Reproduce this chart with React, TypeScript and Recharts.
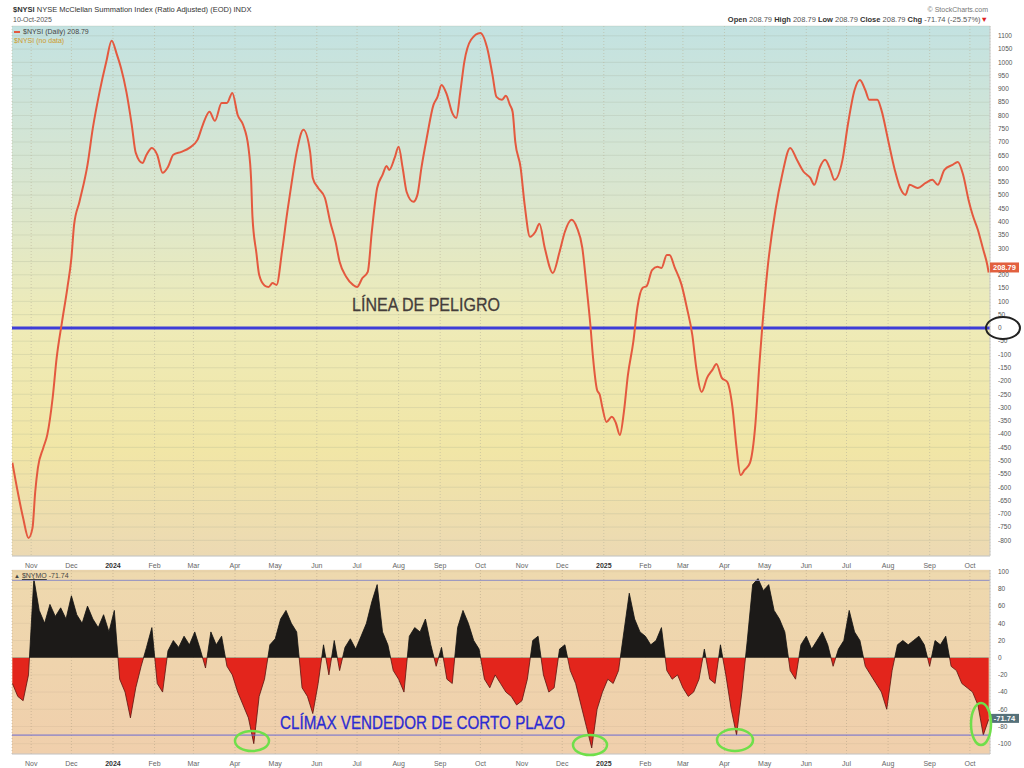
import React from 'react';
import {
  LineChart,
  Line,
  AreaChart,
  Area,
  XAxis,
  YAxis,
  CartesianGrid,
  ReferenceLine,
  ReferenceDot,
} from 'recharts';

const FONT = '"Liberation Sans", Arial, sans-serif';

// x axis is calendar days counted from 1 Jan 2024
const X_DOMAIN: [number, number] = [-75.3, 654];

const monthTicks = [-61, -31, 0, 31, 60, 91, 121, 152, 182, 213, 244, 274, 305, 335, 366, 397, 425, 456, 486, 517, 547, 578, 609, 639];
const monthLabels = ['Nov', 'Dec', '2024', 'Feb', 'Mar', 'Apr', 'May', 'Jun', 'Jul', 'Aug', 'Sep', 'Oct', 'Nov', 'Dec', '2025', 'Feb', 'Mar', 'Apr', 'May', 'Jun', 'Jul', 'Aug', 'Sep', 'Oct'];

// $NYSI summation index
const sumDays = [
  -75, -71, -67, -63, -60, -58, -56, -52, -49, -45, -42, -38, -34, -31, -29, -25, -19, -15, -10, -5,
  -1, 3, 6, 10, 14, 17, 22, 25, 29, 33, 37, 41, 45, 51, 57, 63, 67, 72, 76, 81,
  85, 89, 93, 97, 101, 103, 104, 107, 109, 113, 116, 119, 122, 126, 130, 133, 137, 142, 147, 149,
  153, 158, 162, 166, 169, 174, 179, 182, 186, 190, 193, 197, 201, 204, 206, 210, 213, 216, 219, 224,
  227, 230, 234, 239, 242, 245, 249, 253, 256, 259, 262, 267, 274, 279, 283, 286, 290, 293, 296, 298,
  300, 304, 307, 311, 315, 318, 322, 328, 333, 337, 342, 346, 350, 353, 356, 358, 361, 363, 365, 368,
  372, 375, 378, 381, 384, 388, 391, 395, 398, 402, 406, 409, 413, 415, 419, 424, 428, 432, 435, 439,
  443, 447, 450, 454, 458, 462, 465, 468, 471, 475, 479, 482, 484, 488, 494, 499, 505, 510, 515, 520,
  523, 527, 531, 535, 538, 544, 548, 553, 557, 561, 564, 570, 573, 578, 583, 587, 591, 594, 600, 606,
  611, 615, 620, 626, 630, 634, 638, 641, 645, 649, 652, 653,
];
const sumValues = [
  -508, -618, -716, -791, -753, -618, -527, -452, -403, -264, -113, 23, 151, 264, 388, 475, 614, 753, 889, 1002,
  1081, 1028, 979, 889, 765, 659, 621, 652, 678, 652, 584, 606, 652, 663, 678, 708, 765, 814, 780, 847,
  847, 885, 802, 765, 680, 560, 420, 280, 200, 160, 154, 169, 162, 286, 437, 539, 663, 746, 663, 565,
  527, 490, 399, 324, 249, 192, 162, 154, 188, 211, 362, 527, 576, 610, 595, 640, 682, 603, 512, 475,
  501, 603, 716, 840, 870, 915, 878, 810, 791, 889, 1002, 1085, 1111, 1055, 953, 870, 859, 874, 840, 814,
  701, 603, 463, 343, 362, 392, 301, 207, 286, 362, 407, 377, 301, 162, 11, -113, -234, -252, -301, -354,
  -335, -358, -403, -316, -177, -53, 75, 151, 158, 218, 230, 226, 275, 275, 226, 162, 75, -26, -151, -241,
  -188, -158, -136, -188, -203, -301, -452, -554, -535, -508, -365, -139, -8, 218, 444, 576, 678, 633, 588, 565,
  539, 603, 633, 595, 558, 633, 765, 896, 934, 896, 859, 859, 821, 708, 595, 527, 501, 539, 527, 546,
  558, 539, 595, 614, 625, 576, 482, 426, 369, 294, 237, 208.79,
];
const sumTicks = [
  -800, -750, -700, -650, -600, -550, -500, -450, -400, -350, -300, -250, -200, -150, -100, -50, 0,
  50, 100, 150, 200, 250, 300, 350, 400, 450, 500, 550, 600, 650, 700, 750, 800, 850, 900, 950, 1000, 1050, 1100,
];

// $NYMO oscillator, one reading every 4 days from oscStartDay
const oscStartDay = -75;
const oscStep = 4;
const oscValues = [
  -30, -45, -50, -20, 92, 55, 40, 62, 48, 58,
  45, 72, 50, 40, 60, 45, 35, 50, 30, 55,
  -25, -40, -70, -35, -10, 12, 35, -30, -40, 8,
  20, 12, 25, 15, 30, 10, -12, 30, 15, 25,
  -10, -20, -40, -55, -70, -100, -45, -25, 15, 22,
  45, 55, 40, 30, -35, -45, -65, -30, 15, -20,
  20, -15, 12, 22, 10, 25, 40, 65, 85, 30,
  15, -15, -25, -40, 25, 35, 30, 45, 15, -10,
  12, -25, -30, 35, 55, 40, 20, 10, -25, -35,
  -20, -30, -40, -45, -55, -50, -25, 20, 25, -20,
  -40, -35, 10, 15, -15, -30, -55, -80, -105, -60,
  -40, -25, -30, -15, 30, 75, 45, 30, 25, 15,
  20, 35, -15, -25, -20, -35, -45, -40, -25, 10,
  -25, -30, 15, -20, -60, -90, -40, 20, 85, 92,
  78, 85, 55, 45, 30, -15, -25, 15, 25, 10,
  20, 30, 15, -10, 10, 20, 55, 30, 20, -10,
  -20, -30, -40, -60, -15, 15, 20, 15, 20, 25,
  15, -10, 20, 15, 25, -10, -15, -30, -35, -40,
  -55, -90, -71.74,
];
const oscTicks = [-100, -80, -60, -40, -20, 0, 20, 40, 60, 80, 100];

const sumData = sumDays.map((day, i) => ({ day, value: sumValues[i] }));
const oscData = oscValues.map((value, i) => ({ day: oscStartDay + i * oscStep, value }));

const lastSum = sumValues[sumValues.length - 1];
const lastOsc = oscValues[oscValues.length - 1];
const oscMax = Math.max(...oscValues);
const oscMin = Math.min(...oscValues);
const zeroOffset = oscMax / (oscMax - oscMin);

const MonthTick = (props: any) => {
  const { x, y, payload } = props;
  const idx = monthTicks.indexOf(payload.value);
  const label = monthLabels[idx] ?? '';
  const isYear = /^\d{4}$/.test(label);
  return (
    <text
      x={x}
      y={y + 4}
      textAnchor="middle"
      fontSize={7}
      fontFamily={FONT}
      fontWeight={isYear ? 'bold' : 'normal'}
      fill={isYear ? '#333' : '#666'}
    >
      {label}
    </text>
  );
};

// right-axis tick; the one hidden behind the price tag is skipped, as in the source chart
const makeYTick = (hidden: number | null) => (props: any) => {
  const { x, y, payload } = props;
  if (hidden !== null && payload.value === hidden) return null;
  return (
    <text x={x} y={y} dy="0.35em" textAnchor="start" fontSize={6.5} fill="#555" fontFamily={FONT}>
      {payload.value}
    </text>
  );
};

const TopTick = makeYTick(250);
const BottomTick = makeYTick(null);

const ValueTag = ({ cx, cy, text, fill, h, lift }: any) => (
  <g>
    <rect x={cx} y={cy - lift} width={29} height={h} fill={fill} />
    <text
      x={cx + 14.5}
      y={cy - lift + h / 2}
      dy="0.35em"
      textAnchor="middle"
      fontSize={7.5}
      fontWeight="bold"
      fill="#fff"
      fontFamily={FONT}
    >
      {text}
    </text>
  </g>
);

export default function App() {
  return (
    <div style={{ position: 'relative', width: 1024, height: 768, background: '#fff', overflow: 'hidden', fontFamily: FONT }}>
      <style>{'body{margin:0}'}</style>

      {/* header */}
      <div style={{ position: 'absolute', left: 13, top: 5, fontSize: 7.5, color: '#333', whiteSpace: 'nowrap' }}>
        <b>$NYSI</b> NYSE McClellan Summation Index (Ratio Adjusted) (EOD) INDX
      </div>
      <div style={{ position: 'absolute', left: 13, top: 16, fontSize: 7, color: '#555' }}>10-Oct-2025</div>
      <div style={{ position: 'absolute', right: 36, top: 6, fontSize: 7, color: '#777' }}>© StockCharts.com</div>
      <div style={{ position: 'absolute', right: 36, top: 15, fontSize: 7.5, color: '#555', whiteSpace: 'nowrap' }}>
        <b style={{ color: '#333' }}>Open</b> 208.79 <b style={{ color: '#333' }}>High</b> 208.79{' '}
        <b style={{ color: '#333' }}>Low</b> 208.79 <b style={{ color: '#333' }}>Close</b> 208.79{' '}
        <b style={{ color: '#333' }}>Chg</b> -71.74 (-25.57%)<span style={{ color: '#d22' }}>▼</span>
      </div>

      {/* summation index panel */}
      <div style={{ position: 'absolute', left: 0, top: 0 }}>
        <LineChart width={1024} height={572} data={sumData} margin={{ top: 26, right: 0, left: 12, bottom: 0 }}>
          <defs>
            <linearGradient id="topBg" x1="0" y1="0" x2="0" y2="1">
              <stop offset="0%" stopColor="#c3e2e1" />
              <stop offset="30%" stopColor="#d9e6d0" />
              <stop offset="55%" stopColor="#eeebb8" />
              <stop offset="80%" stopColor="#f1e6a6" />
              <stop offset="100%" stopColor="#ecd9b3" />
            </linearGradient>
          </defs>
          <CartesianGrid fill="url(#topBg)" vertical={false} stroke="#9aa58f" strokeOpacity={0.22} />
          <CartesianGrid horizontal={false} stroke="#b9b49a" strokeOpacity={0.6} strokeDasharray="1 2" />
          <XAxis
            type="number"
            dataKey="day"
            domain={X_DOMAIN}
            allowDataOverflow
            ticks={monthTicks}
            interval={0}
            tick={<MonthTick />}
            tickLine={false}
            axisLine={{ stroke: '#c8c8c8' }}
            height={16}
          />
          <YAxis
            orientation="right"
            domain={[-859, 1137]}
            allowDataOverflow
            ticks={sumTicks}
            interval={0}
            tick={<TopTick />}
            tickLine={false}
            axisLine={{ stroke: '#c8c8c8' }}
            width={34}
          />
          <ReferenceLine y={0} stroke="#3d3dd8" strokeWidth={3} />
          <Line
            type="monotone"
            dataKey="value"
            stroke="#e4593f"
            strokeWidth={2}
            dot={false}
            isAnimationActive={false}
          />
          <ReferenceDot
            x={X_DOMAIN[1]}
            y={lastSum}
            r={0}
            ifOverflow="visible"
            shape={(p: any) => <ValueTag {...p} text={String(lastSum)} fill="#e2603f" h={10} lift={10} />}
          />
        </LineChart>
      </div>

      {/* legend of the top panel */}
      <div style={{ position: 'absolute', left: 14, top: 27, fontSize: 7, color: '#444', lineHeight: '9px' }}>
        <div>
          <span style={{ display: 'inline-block', width: 6, height: 2, background: '#e4593f', marginRight: 3, verticalAlign: 'middle' }} />
          $NYSI (Daily) 208.79
        </div>
        <div style={{ color: '#cf9a2a' }}>$NYSI (no data)</div>
      </div>

      {/* McClellan oscillator panel */}
      <div style={{ position: 'absolute', left: 0, top: 560 }}>
        <AreaChart width={1024} height={210} data={oscData} margin={{ top: 10, right: 0, left: 12, bottom: 0 }}>
          <defs>
            <linearGradient id="botBg" x1="0" y1="0" x2="0" y2="1">
              <stop offset="0%" stopColor="#eed9ae" />
              <stop offset="100%" stopColor="#f0cfac" />
            </linearGradient>
            <linearGradient id="oscFill" x1="0" y1="0" x2="0" y2="1">
              <stop offset={zeroOffset} stopColor="#1c1a18" />
              <stop offset={zeroOffset} stopColor="#e3251c" />
            </linearGradient>
            <linearGradient id="oscStroke" x1="0" y1="0" x2="0" y2="1">
              <stop offset={zeroOffset} stopColor="#111" />
              <stop offset={zeroOffset} stopColor="#5a1410" />
            </linearGradient>
          </defs>
          <CartesianGrid fill="url(#botBg)" vertical={false} stroke="#b09a80" strokeOpacity={0.15} />
          <CartesianGrid horizontal={false} stroke="#b8a588" strokeOpacity={0.6} strokeDasharray="1 2" />
          <XAxis
            type="number"
            dataKey="day"
            domain={X_DOMAIN}
            allowDataOverflow
            ticks={monthTicks}
            interval={0}
            tick={<MonthTick />}
            tickLine={false}
            axisLine={{ stroke: '#c8c8c8' }}
            height={16}
          />
          <YAxis
            orientation="right"
            domain={[-112, 102]}
            allowDataOverflow
            ticks={oscTicks}
            interval={0}
            tick={<BottomTick />}
            tickLine={false}
            axisLine={{ stroke: '#c8c8c8' }}
            width={34}
          />
          <ReferenceLine y={90} stroke="#8c8cc4" strokeWidth={1} />
          <ReferenceLine y={-90} stroke="#6a6ad2" strokeWidth={1} />
          <Area
            type="linear"
            dataKey="value"
            stroke="url(#oscStroke)"
            strokeWidth={0.8}
            fill="url(#oscFill)"
            fillOpacity={1}
            isAnimationActive={false}
          />
          <ReferenceDot
            x={X_DOMAIN[1]}
            y={lastOsc}
            r={0}
            ifOverflow="visible"
            shape={(p: any) => <ValueTag {...p} text={String(lastOsc)} fill="#56717a" h={9} lift={5.5} />}
          />
        </AreaChart>
      </div>

      <div style={{ position: 'absolute', left: 14, top: 572, fontSize: 7, color: '#444' }}>
        <span style={{ fontSize: 6 }}>▲</span> <u>$NYMO</u> -71.74
      </div>

      {/* annotations */}
      <svg width={1024} height={768} style={{ position: 'absolute', left: 0, top: 0, pointerEvents: 'none' }}>
        <text x={352} y={311} fontSize={19} fontFamily={FONT} fill="#443d3b" stroke="#443d3b" strokeWidth={0.3} textLength={148} lengthAdjust="spacingAndGlyphs">
          LÍNEA DE PELIGRO
        </text>
        <text x={280} y={729} fontSize={19} fontFamily={FONT} fill="#2b2bd2" stroke="#2b2bd2" strokeWidth={0.3} textLength={285} lengthAdjust="spacingAndGlyphs">
          CLÍMAX VENDEDOR DE CORTO PLAZO
        </text>
        <ellipse cx={1003} cy={328} rx={17} ry={11} fill="none" stroke="#222" strokeWidth={2} />
        <ellipse cx={252} cy={741} rx={17} ry={10} fill="none" stroke="#6fdf4a" strokeWidth={2.5} />
        <ellipse cx={590} cy={745} rx={17} ry={10} fill="none" stroke="#6fdf4a" strokeWidth={2.5} />
        <ellipse cx={735} cy={740} rx={18} ry={11} fill="none" stroke="#6fdf4a" strokeWidth={2.5} />
        <ellipse cx={981} cy={724} rx={10} ry={21} fill="none" stroke="#6fdf4a" strokeWidth={2.5} />
      </svg>
    </div>
  );
}
